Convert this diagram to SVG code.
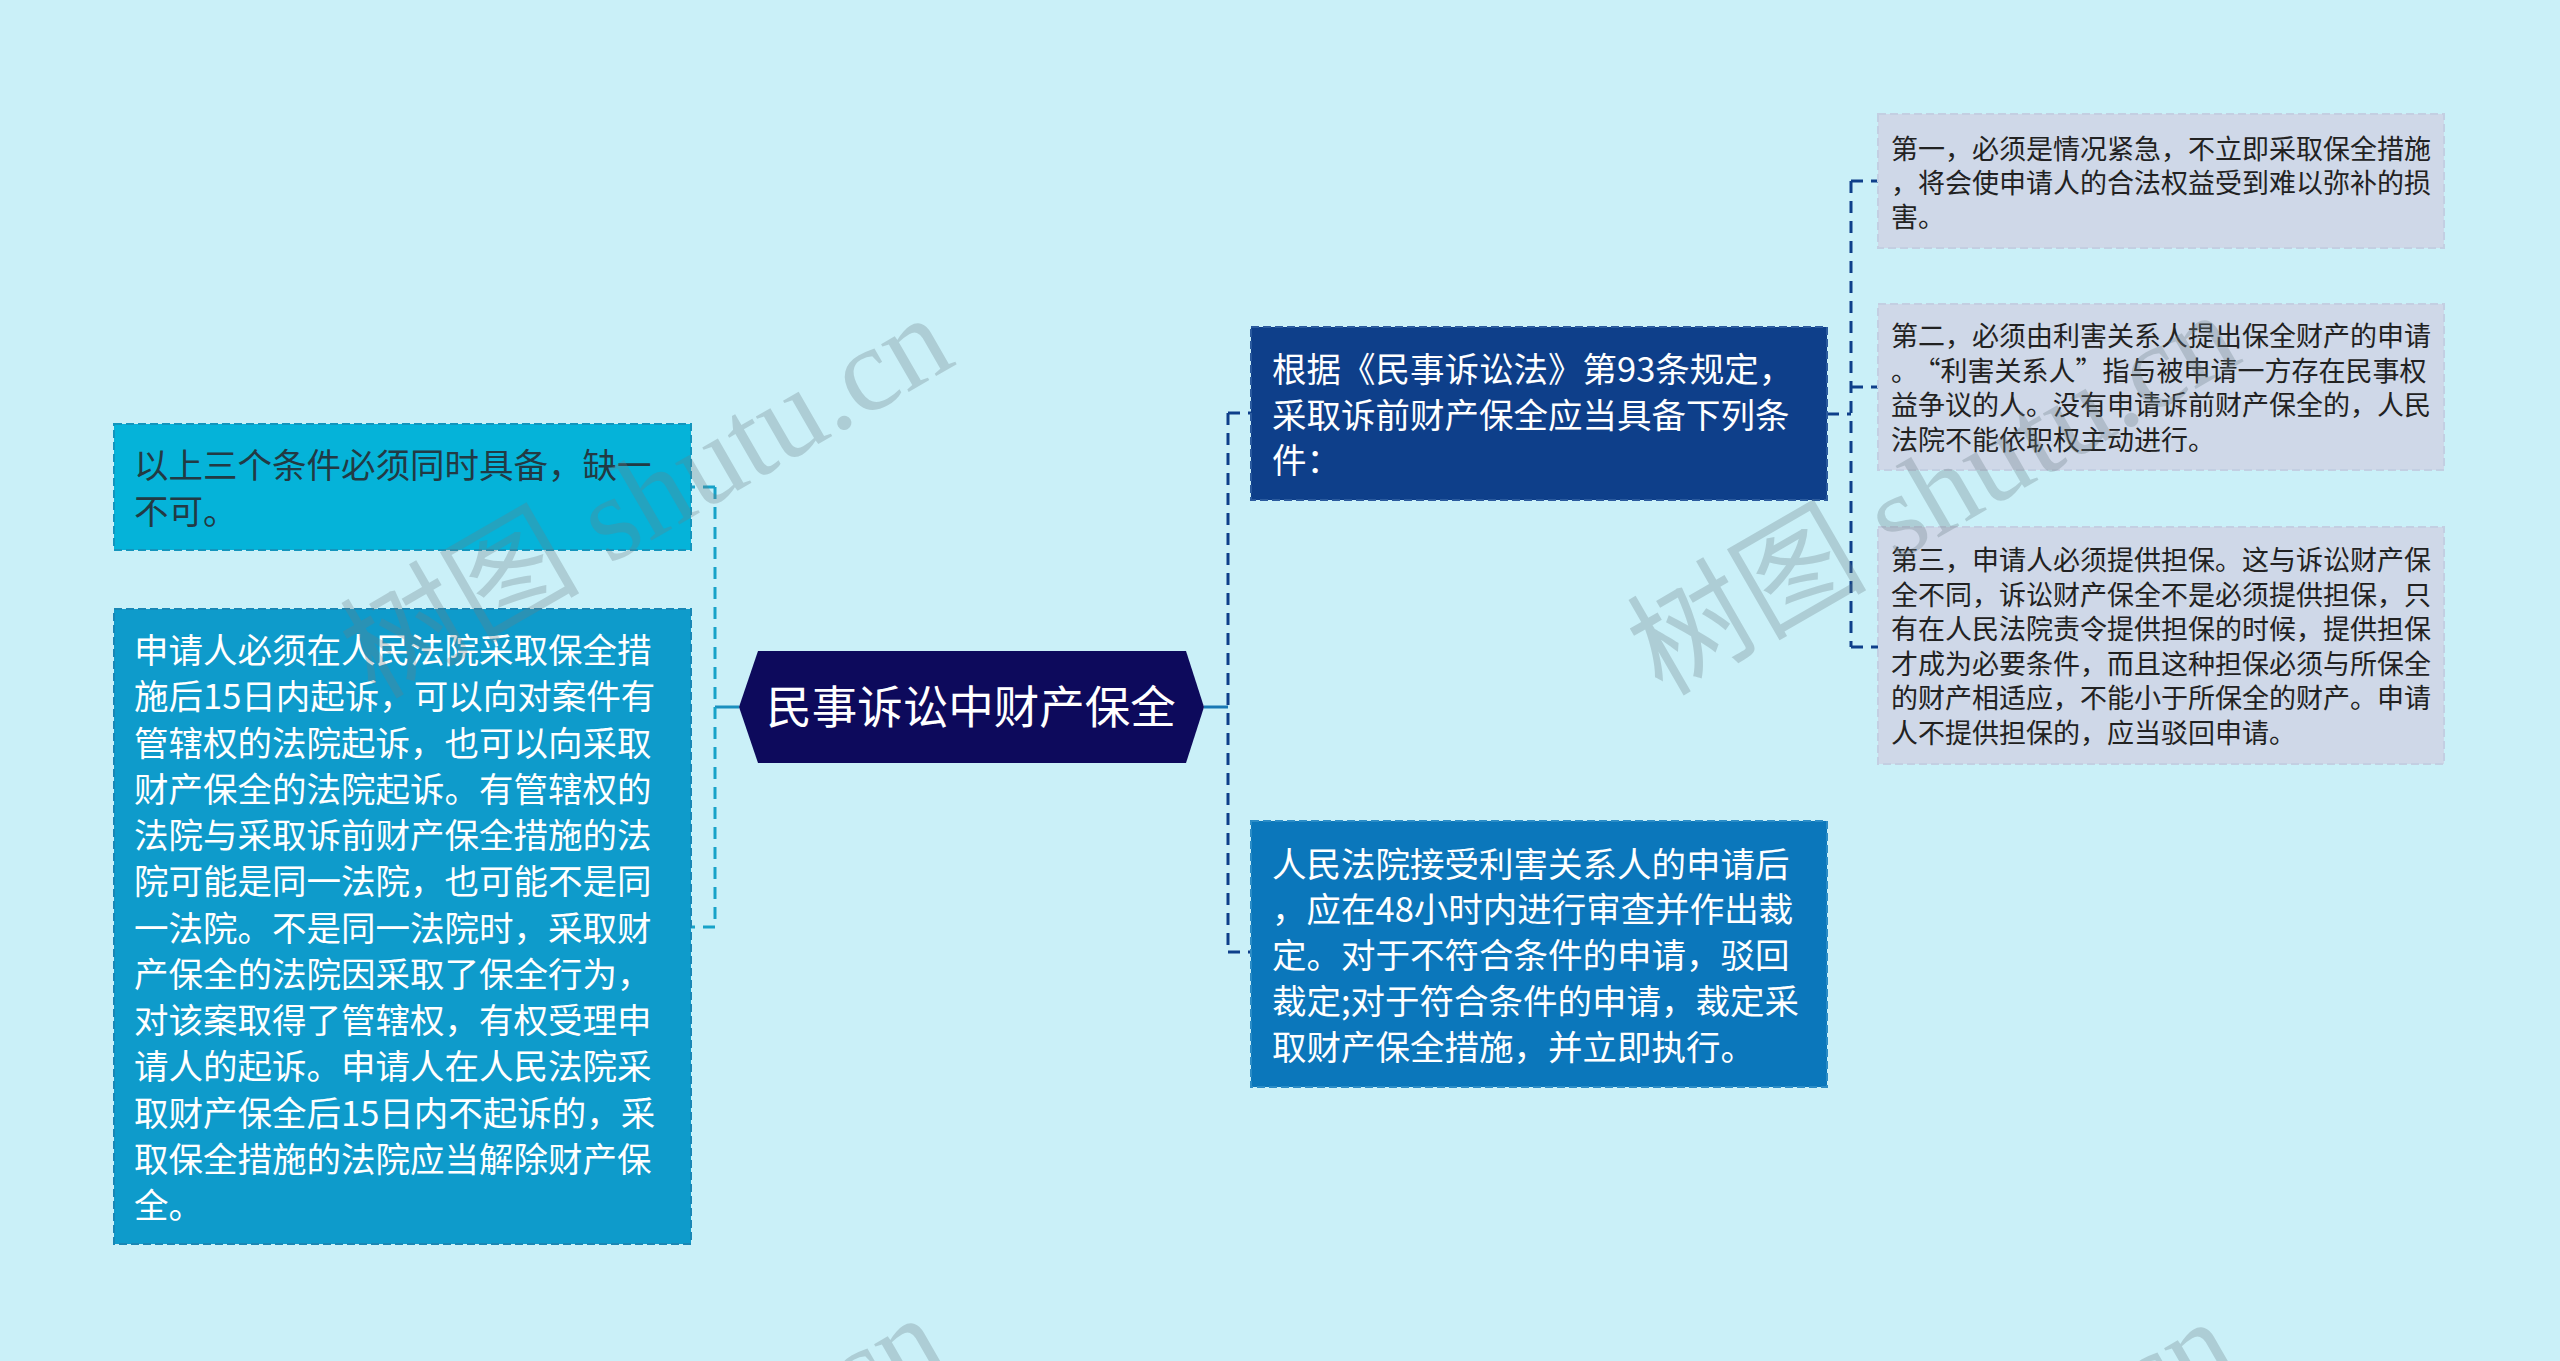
<svg xmlns="http://www.w3.org/2000/svg" width="2560" height="1361" viewBox="0 0 2560 1361">
<style>
.t{font-family:"Noto Sans CJK SC","Noto Sans",sans-serif;}
.big{font-size:34.5px;}
.leaf{font-size:27px;fill:#222;}
.wm{font-family:"Liberation Serif","Noto Sans CJK SC",serif;font-size:120px;fill:#6b7f86;opacity:0.3;}
.cl{fill:none;stroke:#17a2c8;stroke-width:3;stroke-dasharray:12 8;}
.cr{fill:none;stroke:#0e3f8a;stroke-width:3;stroke-dasharray:12 8;}
</style>
<rect x="0" y="0" width="2560" height="1361" fill="#caf0f8"/>

<g id="connectors">
  <line x1="739" y1="707" x2="715" y2="707" stroke="#1a8fbe" stroke-width="3"/>
  <line class="cl" x1="715" y1="487" x2="715" y2="927"/>
  <line class="cl" x1="715" y1="487" x2="691" y2="487"/>
  <line class="cl" x1="715" y1="927" x2="691" y2="927"/>
  <line x1="1204" y1="707" x2="1228" y2="707" stroke="#1878b4" stroke-width="3"/>
  <line class="cr" x1="1228" y1="413" x2="1228" y2="952"/>
  <line class="cr" x1="1228" y1="413" x2="1251" y2="413"/>
  <line class="cr" x1="1228" y1="952" x2="1251" y2="952"/>
  <line class="cr" x1="1827" y1="414" x2="1851" y2="414"/>
  <line class="cr" x1="1851" y1="181" x2="1851" y2="647"/>
  <line class="cr" x1="1851" y1="181" x2="1878" y2="181"/>
  <line class="cr" x1="1851" y1="387" x2="1878" y2="387"/>
  <line class="cr" x1="1851" y1="647" x2="1878" y2="647"/>
</g>

<g id="root">
  <polygon points="739,707 758,651 1186,651 1204,707 1186,763 758,763" fill="#0d0a5c"/>
  <text class="t" x="971" y="724" font-size="45.5" fill="#ffffff" text-anchor="middle">民事诉讼中财产保全</text>
</g>

<g id="node-l1">
  <rect x="114" y="424" width="577" height="126" fill="#05b3d9" stroke="#1495bd" stroke-width="2" stroke-dasharray="8 4"/>
  <text class="t big" fill="#223a44"><tspan x="134" y="478">以上三个条件必须同时具备，缺一</tspan><tspan x="134" y="524">不可。</tspan></text>
</g>

<g id="node-l2">
  <rect x="114" y="609" width="577" height="635" fill="#0e9bcb" stroke="#1a87b5" stroke-width="2" stroke-dasharray="8 4"/>
  <text class="t big" fill="#ffffff">
    <tspan x="134" y="663">申请人必须在人民法院采取保全措</tspan>
    <tspan x="134" y="709.25">施后15日内起诉，可以向对案件有</tspan>
    <tspan x="134" y="755.5">管辖权的法院起诉，也可以向采取</tspan>
    <tspan x="134" y="801.75">财产保全的法院起诉。有管辖权的</tspan>
    <tspan x="134" y="848">法院与采取诉前财产保全措施的法</tspan>
    <tspan x="134" y="894.25">院可能是同一法院，也可能不是同</tspan>
    <tspan x="134" y="940.5">一法院。不是同一法院时，采取财</tspan>
    <tspan x="134" y="986.75">产保全的法院因采取了保全行为，</tspan>
    <tspan x="134" y="1033">对该案取得了管辖权，有权受理申</tspan>
    <tspan x="134" y="1079.25">请人的起诉。申请人在人民法院采</tspan>
    <tspan x="134" y="1125.5">取财产保全后15日内不起诉的，采</tspan>
    <tspan x="134" y="1171.75">取保全措施的法院应当解除财产保</tspan>
    <tspan x="134" y="1218">全。</tspan>
  </text>
</g>

<g id="node-r1">
  <rect x="1251" y="327" width="576" height="173" fill="#0e3f8a" stroke="#2a5a9e" stroke-width="2" stroke-dasharray="8 4"/>
  <text class="t big" fill="#ffffff"><tspan x="1272" y="382">根据《民事诉讼法》第93条规定，</tspan><tspan x="1272" y="428">采取诉前财产保全应当具备下列条</tspan><tspan x="1272" y="473">件：</tspan></text>
</g>

<g id="node-r2">
  <rect x="1251" y="821" width="576" height="266" fill="#0b77bb" stroke="#2b8cc6" stroke-width="2" stroke-dasharray="8 4"/>
  <text class="t big" fill="#ffffff"><tspan x="1272" y="877">人民法院接受利害关系人的申请后</tspan><tspan x="1272" y="922">，应在48小时内进行审查并作出裁</tspan><tspan x="1272" y="968">定。对于不符合条件的申请，驳回</tspan><tspan x="1272" y="1014">裁定;对于符合条件的申请，裁定采</tspan><tspan x="1272" y="1060">取财产保全措施，并立即执行。</tspan></text>
</g>

<g id="leaf-1">
  <rect x="1878" y="114" width="566" height="134" fill="#cfd8e8" stroke="#c3cfe2" stroke-width="2" stroke-dasharray="8 4"/>
  <text class="t leaf"><tspan x="1891" y="159">第一，必须是情况紧急，不立即采取保全措施</tspan><tspan x="1891" y="193">，将会使申请人的合法权益受到难以弥补的损</tspan><tspan x="1891" y="227">害。</tspan></text>
</g>

<g id="leaf-2">
  <rect x="1878" y="304" width="566" height="166" fill="#cfd8e8" stroke="#c3cfe2" stroke-width="2" stroke-dasharray="8 4"/>
  <text class="t leaf"><tspan x="1891" y="346">第二，必须由利害关系人提出保全财产的申请</tspan><tspan x="1891" y="381">。</tspan><tspan dx="9">“利害关系人”指与被申请一方存在民事权</tspan><tspan x="1891" y="415">益争议的人。没有申请诉前财产保全的，人民</tspan><tspan x="1891" y="450">法院不能依职权主动进行。</tspan></text>
</g>

<g id="leaf-3">
  <rect x="1878" y="527" width="566" height="237" fill="#cfd8e8" stroke="#c3cfe2" stroke-width="2" stroke-dasharray="8 4"/>
  <text class="t leaf"><tspan x="1891" y="570">第三，申请人必须提供担保。这与诉讼财产保</tspan><tspan x="1891" y="605">全不同，诉讼财产保全不是必须提供担保，只</tspan><tspan x="1891" y="639">有在人民法院责令提供担保的时候，提供担保</tspan><tspan x="1891" y="674">才成为必要条件，而且这种担保必须与所保全</tspan><tspan x="1891" y="708">的财产相适应，不能小于所保全的财产。申请</tspan><tspan x="1891" y="743">人不提供担保的，应当驳回申请。</tspan></text>
</g>

<g id="watermarks">
  <text class="wm" transform="translate(375,700) rotate(-30)">树图 shutu.cn</text>
  <text class="wm" transform="translate(1662,697) rotate(-30)">树图 shutu.cn</text>
  <text class="wm" transform="translate(368,1700) rotate(-30)">树图 shutu.cn</text>
  <text class="wm" transform="translate(1658,1704) rotate(-30)">树图 shutu.cn</text>
</g>
</svg>
